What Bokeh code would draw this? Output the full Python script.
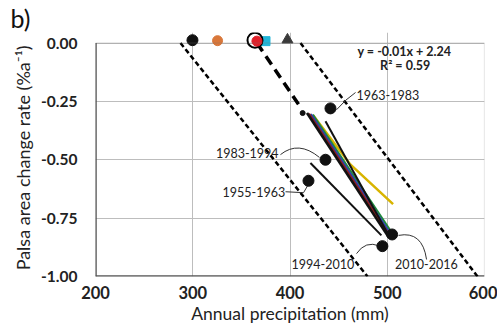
from bokeh.plotting import figure
from bokeh.models import Label, BoxAnnotation, FixedTicker, NumeralTickFormatter, Range1d
from bokeh.core.properties import value
from bokeh.embed import file_html
from bokeh.resources import INLINE

FONT = "Lato"

# ---- data ----
x_ticks = [200, 300, 400, 500, 600]
y_ticks = [-1.0, -0.75, -0.5, -0.25, 0.0]

# sites with zero change (top row)
zero_x = [299.7, 325.5, 374.8, 397.4]
zero_y = [0.012, 0.010, 0.008, 0.014]
zero_marker = ["circle", "circle", "square", "triangle"]
zero_color = ["#111111", "#d9773a", "#22b5d8", "#3a3a3a"]
zero_size = [11, 10, 9, 11]
ring_x = [364.0]
ring_y = [0.012]
red_x = [366.0]
red_y = [0.008]

# period mean points
period_labels = ["1955-1963", "1963-1983", "1983-1994", "1994-2010", "2010-2016"]
period_x = [419.0, 441.6, 436.5, 495.0, 505.0]
period_y = [-0.59, -0.28, -0.50, -0.87, -0.82]

# trend lines of individual sites (start -> end)
bundle_x0 = [417.5, 419.5, 421.5, 423.5]
bundle_y0 = [-0.300, -0.302, -0.304, -0.306]
bundle_x1 = [500.5, 502.0, 503.5, 505.0]
bundle_y1 = [-0.826, -0.822, -0.818, -0.814]
bundle_color = ["#111111", "#8a1c1c", "#2a3fb0", "#1f8a3c"]
bundle_width = [2.6, 2.2, 2.0, 2.0]

yellow_x = [424.0, 462.0, 506.0]
yellow_y = [-0.31, -0.52, -0.69]

black_a_x = [436.5, 501.0]
black_a_y = [-0.335, -0.82]
black_b_x = [421.0, 494.0]
black_b_y = [-0.514, -0.824]

small_dot_x = [413.0]
small_dot_y = [-0.30]

# regression (thick dashed) and envelope (dashed) lines
reg_x = [366.0, 410.0]
reg_y = [0.0, -0.27]
env_left_x = [287.4, 479.7]
env_left_y = [0.0, -1.0]
env_right_x = [410.8, 592.8]
env_right_y = [0.0, -1.0]

# label texts and positions
lab_text = ["1963-1983", "1983-1994", "1955-1963", "1994-2010", "2010-2016"]
lab_x = [468.4, 388.2, 395.0, 401.6, 508.0]
lab_y = [-0.224, -0.469, -0.637, -0.947, -0.947]
lab_align = ["left", "right", "right", "left", "left"]

# connector curves (quadratic): start, control, end
con_x0 = [467.4, 390.2, 468.4, 511.6]
con_y0 = [-0.212, -0.478, -0.902, -0.824]
con_cx = [457.1, 408.7, 477.6, 536.2]
con_cy = [-0.241, -0.416, -0.845, -0.804]
con_x1 = [447.8, 430.3, 492.0, 540.4]
con_y1 = [-0.286, -0.490, -0.869, -0.927]
con55_x = [395.4, 413.9, 418.0]
con55_y = [-0.637, -0.641, -0.612]

eq_text = ["y = -0.01x + 2.24", "R\u00b2 = 0.59"]
eq_x = [517.7, 518.5]
eq_y = [-0.037, -0.098]

# ---- figure ----
p = figure(width=497, height=326, x_range=Range1d(200, 600), y_range=Range1d(-1.0, 0.045),
           output_backend="svg", toolbar_location=None,
           min_border_left=95, min_border_right=13, min_border_top=30, min_border_bottom=40)
p.outline_line_color = None
p.background_fill_color = "white"
p.border_fill_color = "white"

p.title.text = "b)"
p.title.align = "left"
p.title.offset = -85
p.title.standoff = 0
p.title.text_font = FONT
p.title.text_font_size = "25px"
p.title.text_font_style = "normal"
p.title.text_color = "#111111"

for ax in (p.xaxis[0], p.yaxis[0]):
    ax.axis_line_color = None
    ax.major_tick_line_color = None
    ax.minor_tick_line_color = None
    ax.major_label_text_font = FONT
    ax.major_label_text_font_style = "bold"
    ax.major_label_text_color = "#222222"
    ax.axis_label_text_font = FONT
    ax.axis_label_text_font_style = "normal"
    ax.axis_label_text_color = "#222222"

p.xaxis.ticker = FixedTicker(ticks=x_ticks)
p.xaxis.major_label_text_font_size = "16.5px"
p.xaxis.major_label_standoff = 3
p.xaxis.axis_label = "Annual precipitation (mm)"
p.xaxis.axis_label_text_font_size = "17.5px"
p.xaxis.axis_label_standoff = 1

p.yaxis.ticker = FixedTicker(ticks=y_ticks)
p.yaxis.formatter = NumeralTickFormatter(format="0.00")
p.yaxis.major_label_text_font_size = "15.5px"
p.yaxis.major_label_standoff = 12
p.yaxis.axis_label = "Palsa area change rate (%a\u207b\u00b9)\u2009\u2009\u2009"
p.yaxis.axis_label_text_font_size = "18px"
p.yaxis.axis_label_standoff = 4

p.xgrid.ticker = FixedTicker(ticks=x_ticks)
p.ygrid.ticker = FixedTicker(ticks=y_ticks)
p.xgrid.grid_line_color = "#bdbdbd"
p.ygrid.grid_line_color = "#bdbdbd"

# frame box from 0 to -1
p.add_layout(BoxAnnotation(left=200, right=600, bottom=-1.0, top=0.0, fill_color=None,
                           line_color="#707070", line_width=1.2))
p.line([x_ticks[0], x_ticks[0]], [y_ticks[0], y_ticks[-1]], line_color="#555555", line_width=2.5)
p.line([x_ticks[0], x_ticks[-1]], [y_ticks[0], y_ticks[0]], line_color="#555555", line_width=2.5)

# envelopes and regression
p.line(env_left_x, env_left_y, line_color="black", line_width=2.5, line_dash="5 3")
p.line(env_right_x, env_right_y, line_color="black", line_width=2.5, line_dash="5 3")
p.line(reg_x, reg_y, line_color="black", line_width=3.5, line_dash="10 6")

# site trend lines
p.line(yellow_x, yellow_y, line_color="#d8b400", line_width=2.5)
p.segment(x0=bundle_x0[::-1], y0=bundle_y0[::-1], x1=bundle_x1[::-1], y1=bundle_y1[::-1],
          line_color=bundle_color[::-1], line_width=bundle_width[::-1])
p.line(black_a_x, black_a_y, line_color="#111111", line_width=2)
p.line(black_b_x, black_b_y, line_color="#111111", line_width=2)

# connectors
p.quadratic(x0=con_x0, y0=con_y0, x1=con_x1, y1=con_y1, cx=con_cx, cy=con_cy,
            line_color="#333333", line_width=1)
p.line(con55_x, con55_y, line_color="#333333", line_width=1)

# points
p.scatter(small_dot_x, small_dot_y, size=5, color="#111111")
p.scatter(period_x, period_y, size=11, color="#111111")
for x, y, m, c, s in zip(zero_x, zero_y, zero_marker, zero_color, zero_size):
    p.scatter([x], [y], marker=m, size=s, fill_color=c, line_color=c)
p.scatter(ring_x, ring_y, size=15, fill_color=None, line_color="black", line_width=2)
p.scatter(red_x, red_y, size=10, fill_color="#e0202a", line_color="#e0202a")

# labels
for t, x, y, a in zip(lab_text, lab_x, lab_y, lab_align):
    p.add_layout(Label(x=x, y=y, text=t, text_align=a, text_baseline="middle",
                       text_font=FONT, text_font_size="12.5px", text_color="#222222"))
for t, x, y in zip(eq_text, eq_x, eq_y):
    p.add_layout(Label(x=x, y=y, text=t, text_align="center", text_baseline="middle",
                       text_font=FONT, text_font_size="12.5px", text_font_style="bold",
                       text_color="#222222"))

open("out.html", "w").write(file_html(p, INLINE))
